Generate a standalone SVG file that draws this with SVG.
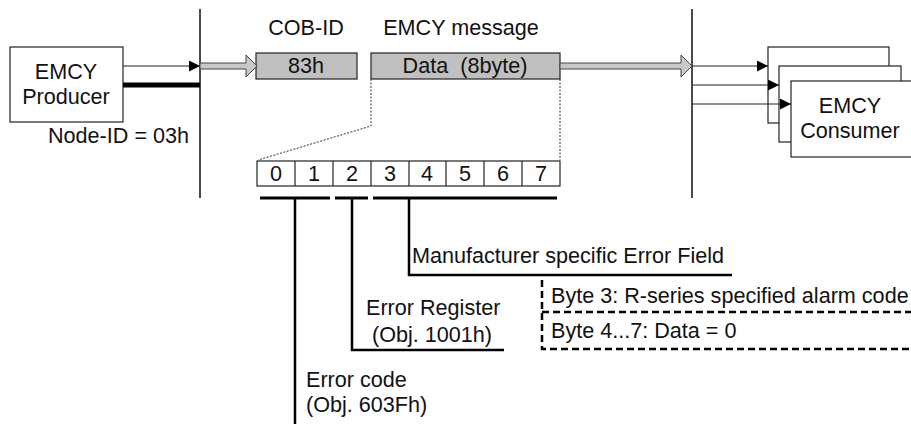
<svg xmlns="http://www.w3.org/2000/svg" width="911" height="424" viewBox="0 0 911 424">
  <style>
    text { font-family: "Liberation Sans", Arial, sans-serif; font-size: 21.6px; fill: #111; }
    .mid { text-anchor: middle; }
    .box { fill: #fff; stroke: #222; stroke-width: 1.2; }
    .field { fill: #c0c0c0; stroke: #222; stroke-width: 1.2; }
    .bus { stroke: #111; stroke-width: 1.5; fill: none; }
    .thin { stroke: #222; stroke-width: 1.2; fill: none; }
    .bar { stroke: #000; stroke-width: 3; fill: none; }
    .lead { stroke: #000; stroke-width: 2.5; fill: none; }
    .dot { stroke: #333; stroke-width: 1; stroke-dasharray: 2 1.5; fill: none; }
    .dash { stroke: #000; stroke-width: 2.5; stroke-dasharray: 7 4; fill: none; }
    .block { fill: #c8c8c8; stroke: #444; stroke-width: 1; }
  </style>
  <defs>
    <marker id="tri" viewBox="0 0 10 10" refX="10" refY="5" markerWidth="18" markerHeight="11" markerUnits="userSpaceOnUse" orient="auto">
      <path d="M0,0 L10,5 L0,10 Z" fill="#000"/>
    </marker>
  </defs>

  <!-- bus lines -->
  <g id="bus">
    <line class="bus" x1="200" y1="9" x2="200" y2="198"/>
    <line class="bus" x1="692" y1="9" x2="692" y2="198"/>
  </g>

  <g id="producer">
    <rect class="box" x="10" y="47" width="113" height="75"/>
    <text class="mid" x="66" y="79">EMCY</text>
    <text class="mid" x="66" y="104">Producer</text>
    <text x="48" y="143">Node-ID = 03h</text>
  </g>

  <g id="cob-id">
    <text class="mid" x="306" y="35">COB-ID</text>
    <rect class="field" x="256" y="53" width="101" height="26"/>
    <text class="mid" x="306" y="73">83h</text>
  </g>

  <g id="emcy-message">
    <text class="mid" x="461" y="35">EMCY message</text>
    <rect class="field" x="371" y="53" width="189" height="26"/>
    <text class="mid" x="465" y="73" xml:space="preserve">Data  (8byte)</text>
  </g>

  <g id="consumers">
    <rect class="box" x="768" y="47" width="121" height="76"/>
    <rect class="box" x="779" y="66" width="122" height="76"/>
    <rect class="box" x="791" y="81" width="130" height="76"/>
    <text class="mid" x="850" y="113">EMCY</text>
    <text class="mid" x="850" y="138">Consumer</text>
  </g>

  <g id="byte-table">
    <rect class="box" x="257" y="161" width="303" height="25"/>
    <g class="thin">
      <line x1="295" y1="161" x2="295" y2="186"/>
      <line x1="333" y1="161" x2="333" y2="186"/>
      <line x1="371" y1="161" x2="371" y2="186"/>
      <line x1="409" y1="161" x2="409" y2="186"/>
      <line x1="446" y1="161" x2="446" y2="186"/>
      <line x1="484" y1="161" x2="484" y2="186"/>
      <line x1="522" y1="161" x2="522" y2="186"/>
    </g>
    <text class="mid" x="276" y="181">0</text>
    <text class="mid" x="314" y="181">1</text>
    <text class="mid" x="352" y="181">2</text>
    <text class="mid" x="390" y="181">3</text>
    <text class="mid" x="427" y="181">4</text>
    <text class="mid" x="465" y="181">5</text>
    <text class="mid" x="503" y="181">6</text>
    <text class="mid" x="541" y="181">7</text>
  </g>

  <g id="error-code">
    <text x="306" y="387">Error code</text>
    <text x="306" y="412">(Obj. 603Fh)</text>
  </g>

  <g id="error-register">
    <text x="366" y="315">Error Register</text>
    <text x="372" y="342">(Obj. 1001h)</text>
  </g>

  <g id="manufacturer-field">
    <text x="412" y="263">Manufacturer specific Error Field</text>
  </g>

  <g id="field-detail">
    <polyline class="dash" points="542,280 542,349 911,349"/>
    <line class="dash" x1="542" y1="312" x2="911" y2="312"/>
    <text x="551" y="303">Byte 3: R-series specified alarm code</text>
    <text x="551" y="338">Byte 4...7: Data = 0</text>
  </g>

  <!-- connectors -->
  <g id="connectors">
    <line class="thin" x1="123" y1="66" x2="200" y2="66" marker-end="url(#tri)"/>
    <line x1="123" y1="85" x2="200" y2="85" stroke="#000" stroke-width="5"/>
    <path class="block" d="M200,63 H246 V55 L257,66 L246,77 V69 H200 Z"/>
    <path class="block" d="M560,63 H681 V55 L692,66 L681,77 V69 H560 Z"/>
    <line class="thin" x1="692" y1="66" x2="768" y2="66" marker-end="url(#tri)"/>
    <line class="thin" x1="692" y1="85" x2="779" y2="85" marker-end="url(#tri)"/>
    <line class="thin" x1="692" y1="104" x2="791" y2="104" marker-end="url(#tri)"/>
    <polyline class="dot" points="371,79 371,126 258,160"/>
    <line class="dot" x1="560" y1="79" x2="560" y2="160"/>
    <line class="bar" x1="260" y1="198" x2="330" y2="198"/>
    <line class="bar" x1="335" y1="198" x2="368" y2="198"/>
    <line class="bar" x1="373" y1="198" x2="557" y2="198"/>
    <line class="lead" x1="295" y1="198" x2="295" y2="424"/>
    <polyline class="lead" points="352,198 352,350 504,350"/>
    <polyline class="lead" points="409,198 409,275 732,275"/>
  </g>
</svg>
